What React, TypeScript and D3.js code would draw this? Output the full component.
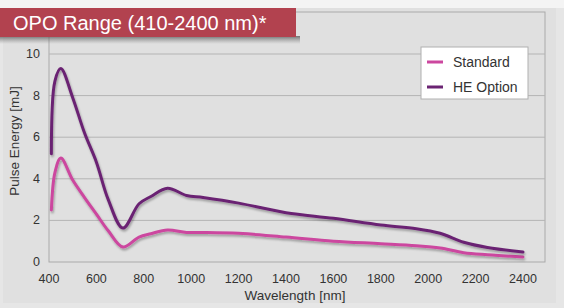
import React from 'react';
import * as d3 from 'd3';

// wavelengths in nm
const wavelengths = [410, 425, 450, 500, 550, 600, 650, 712, 780, 830, 900, 980, 1050, 1200, 1400, 1600, 1800, 1950, 2050, 2150, 2250, 2400];
const standard = [2.5, 4.3, 5.0, 3.94, 3.1, 2.3, 1.5, 0.72, 1.2, 1.36, 1.54, 1.42, 1.42, 1.38, 1.2, 1.0, 0.88, 0.78, 0.67, 0.45, 0.35, 0.24];
const heOption = [5.2, 8.7, 9.3, 7.9, 6.2, 4.8, 3.0, 1.63, 2.8, 3.15, 3.55, 3.2, 3.1, 2.83, 2.37, 2.1, 1.78, 1.6, 1.38, 0.95, 0.7, 0.48];
const xTicks = [400, 600, 800, 1000, 1200, 1400, 1600, 1800, 2000, 2200, 2400];
const yTicks = [0, 2, 4, 6, 8, 10];
const seriesNames = ['Standard', 'HE Option'];
const seriesColors = ['#cc479f', '#6b2473'];

const W = 564;
const H = 308;
const font = '"Liberation Sans", Arial, sans-serif';

const App: React.FC = () => {
    const x = d3.scaleLinear().domain([400, 2400]).range([49, 523]);
    const y = d3.scaleLinear().domain([0, 10]).range([262, 54]);
    const frameRight = 545;
    const frameTop = 12;

    const line = d3.line<[number, number]>()
        .x((d) => x(d[0]))
        .y((d) => y(d[1]))
        .curve(d3.curveCatmullRom.alpha(0.5));

    const series = [standard, heOption].map((vals) => wavelengths.map((w, i) => [w, vals[i]] as [number, number]));

    return (
        <svg width={W} height={H} style={{ position: 'absolute', left: 0, top: 0 }} fontFamily={font}>
            <defs>
                <filter id="shadow" x="-5%" y="-5%" width="110%" height="120%">
                    <feDropShadow dx="1" dy="2" stdDeviation="1.2" floodColor="#000" floodOpacity="0.3" />
                </filter>
                <linearGradient id="bannerShadow" x1="0" y1="0" x2="0" y2="1">
                    <stop offset="0" stopColor="#555" stopOpacity="0.8" />
                    <stop offset="1" stopColor="#888" stopOpacity="0" />
                </linearGradient>
            </defs>
            <rect x={0} y={0} width={W} height={H} fill="#e6e6e6" />
            <rect x={0} y={0} width={W} height={8} fill="#f4f4f4" />
            <rect x={3} y={8} width={553} height={295} fill="#e0e0e0" />

            {/* plot frame */}
            <rect x={x(400)} y={frameTop} width={frameRight - x(400)} height={y(0) - frameTop} fill="#e0e0e0" stroke="#aaaaaa" strokeWidth={1} />
            {yTicks.filter((t) => t > 0).map((t) => (
                <line key={t} x1={x(400)} x2={frameRight} y1={y(t)} y2={y(t)} stroke="#b4b4b4" strokeWidth={1} />
            ))}

            {/* title banner */}
            <rect x={0} y={36} width={300} height={8} fill="url(#bannerShadow)" />
            <rect x={0} y={8} width={296} height={29} fill="#b2424f" />
            <text x={13} y={30} fontSize={20} fill="#ffffff">OPO Range (410-2400 nm)*</text>

            {/* y ticks */}
            {yTicks.map((t) => (
                <text key={t} x={40} y={y(t) + 4} textAnchor="end" fontSize={12.5} fill="#333">{t}</text>
            ))}
            {/* x ticks */}
            {xTicks.map((t) => (
                <text key={t} x={x(t)} y={283} textAnchor="middle" fontSize={12.5} fill="#333">{t}</text>
            ))}
            <text x={295} y={300} textAnchor="middle" fontSize={13.5} fill="#333">Wavelength [nm]</text>
            <text transform="translate(19, 141) rotate(-90)" textAnchor="middle" fontSize={13.5} fill="#333">Pulse Energy [mJ]</text>

            {/* lines */}
            {series.map((s, i) => (
                <path key={i} d={line(s) ?? ''} fill="none" stroke={seriesColors[i]} strokeWidth={3} strokeLinecap="round" strokeLinejoin="round" filter="url(#shadow)" />
            ))}

            {/* legend */}
            <rect x={421} y={47} width={107} height={52} fill="#ffffff" stroke="#b0b0b0" strokeWidth={1} />
            {seriesNames.map((n, i) => (
                <g key={n} transform={`translate(427, ${62 + i * 25})`}>
                    <line x1={0} x2={16} y1={0} y2={0} stroke={seriesColors[i]} strokeWidth={3} />
                    <text x={26} y={5} fontSize={14} fill="#333">{n}</text>
                </g>
            ))}
        </svg>
    );
};

export default App;
